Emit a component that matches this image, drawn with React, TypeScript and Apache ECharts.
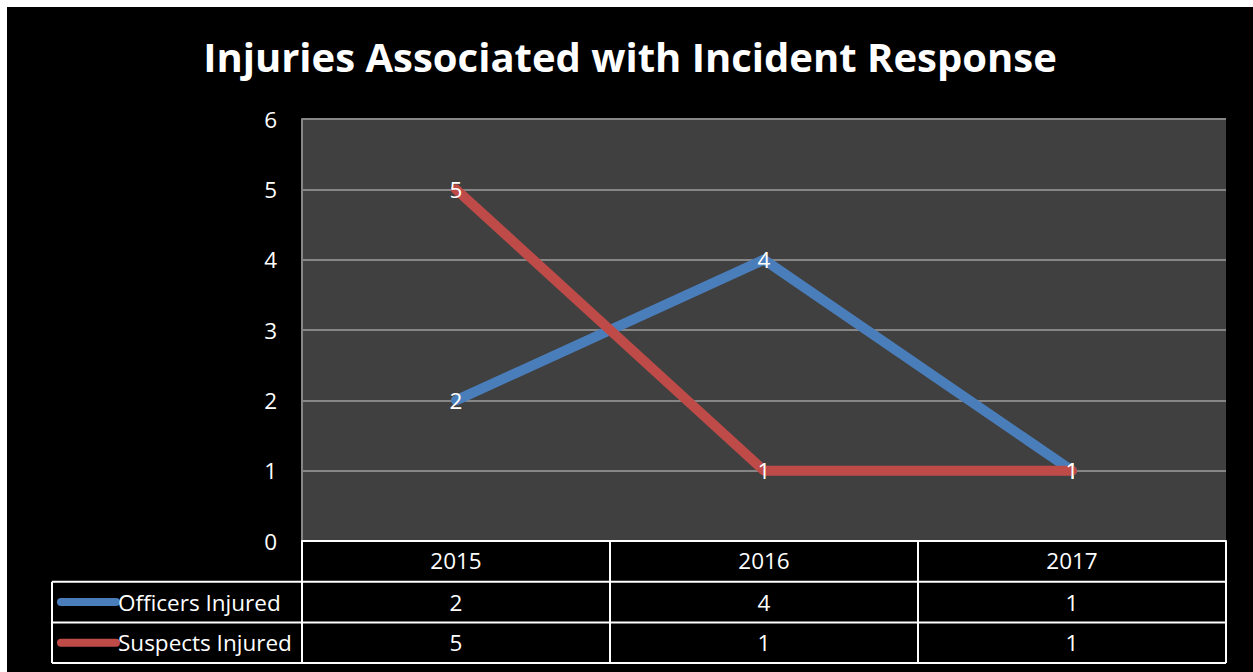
import React, { useEffect, useRef } from "react";
import * as echarts from "echarts";

// Chart data
const years = ["2015", "2016", "2017"];
const officersInjured = [2, 4, 1];
const suspectsInjured = [5, 1, 1];
const seriesNames = ["Officers Injured", "Suspects Injured"];
const seriesColors = ["#4a7ebb", "#be4b48"];
const titleText = "Injuries Associated with Incident Response";

const FONT = "'Open Sans', Lato, sans-serif";
const FONT_SIZE = 22.5;
const TABLE_ROW_H = 40.7;
const TABLE_LEFT = 45;

export default function App() {
  const ref = useRef<HTMLDivElement>(null);

  useEffect(() => {
    if (!ref.current) return;
    const chart = echarts.init(ref.current, null, { renderer: "svg" });
    const seriesData = [officersInjured, suspectsInjured];

    chart.setOption({
      animation: false,
      backgroundColor: "#000000",
      title: {
        text: titleText,
        left: "center",
        top: 24,
        textStyle: {
          color: "#ffffff",
          fontFamily: FONT,
          fontWeight: "bold",
          fontSize: 40,
        },
      },
      grid: {
        left: 295,
        right: 27,
        top: 112,
        bottom: 131,
        show: true,
        backgroundColor: "#404040",
        borderWidth: 0,
      },
      xAxis: {
        type: "category",
        data: years,
        boundaryGap: true,
        axisLine: { show: true, lineStyle: { color: "#ffffff", width: 2 } },
        axisTick: {
          show: true,
          length: 122,
          lineStyle: { color: "#ffffff", width: 2 },
        },
        axisLabel: {
          color: "#ffffff",
          fontFamily: FONT,
          fontSize: FONT_SIZE,
          margin: 8,
        },
      },
      yAxis: {
        type: "value",
        min: 0,
        max: 6,
        interval: 1,
        axisLine: { show: true, lineStyle: { color: "#868686", width: 2 } },
        axisTick: { show: false },
        splitLine: { lineStyle: { color: "#868686", width: 2 } },
        axisLabel: {
          color: "#ffffff",
          fontFamily: FONT,
          fontSize: FONT_SIZE,
          margin: 25,
        },
      },
      series: seriesData.map((d, i) => ({
        name: seriesNames[i],
        type: "line",
        data: d,
        symbol: "circle",
        symbolSize: 2,
        showSymbol: true,
        itemStyle: { color: "rgba(0,0,0,0)", borderWidth: 0 },
        lineStyle: { color: seriesColors[i], width: 10, cap: "round", join: "round" },
        label: {
          show: true,
          position: "inside",
          color: "#ffffff",
          fontFamily: FONT,
          fontSize: FONT_SIZE,
        },
        z: 2 + i,
      })),
    });

    // Data table below the axis, placed from the axis' own pixel scale
    const centers = years.map(
      (y) => chart.convertToPixel({ xAxisIndex: 0 }, y) as number
    );
    const band = centers.length > 1 ? centers[1] - centers[0] : 300;
    const rightX = centers[centers.length - 1] + band / 2;
    const baseY = chart.convertToPixel({ yAxisIndex: 0 }, 0) as number;
    const lineStyle = { stroke: "#ffffff", lineWidth: 2 };

    const graphics: any[] = [];
    const rowTops = [baseY + TABLE_ROW_H, baseY + 2 * TABLE_ROW_H];
    const tableBottom = baseY + 3 * TABLE_ROW_H;

    // horizontal rules
    [...rowTops, tableBottom].forEach((y) => {
      graphics.push({
        type: "line",
        shape: { x1: TABLE_LEFT, y1: y, x2: rightX, y2: y },
        style: lineStyle,
      });
    });
    // left edge of the legend column
    graphics.push({
      type: "line",
      shape: { x1: TABLE_LEFT, y1: rowTops[0], x2: TABLE_LEFT, y2: tableBottom },
      style: lineStyle,
    });

    seriesData.forEach((d, i) => {
      const cy = rowTops[i] + TABLE_ROW_H / 2;
      graphics.push({
        type: "line",
        shape: { x1: TABLE_LEFT + 9, y1: cy, x2: TABLE_LEFT + 64, y2: cy },
        style: { stroke: seriesColors[i], lineWidth: 8, lineCap: "round" },
      });
      graphics.push({
        type: "text",
        x: TABLE_LEFT + 66,
        y: cy,
        style: {
          text: seriesNames[i],
          fill: "#ffffff",
          font: `${FONT_SIZE}px ${FONT}`,
          verticalAlign: "middle",
          align: "left",
        },
      });
      d.forEach((v, j) => {
        graphics.push({
          type: "text",
          x: centers[j],
          y: cy,
          style: {
            text: String(v),
            fill: "#ffffff",
            font: `${FONT_SIZE}px ${FONT}`,
            verticalAlign: "middle",
            align: "center",
          },
        });
      });
    });

    chart.setOption({ graphic: graphics });

    return () => chart.dispose();
  }, []);

  return (
    <div
      ref={ref}
      style={{
        position: "fixed",
        left: 7,
        top: 7,
        width: 1246,
        height: 665,
        background: "#000000",
      }}
    />
  );
}
